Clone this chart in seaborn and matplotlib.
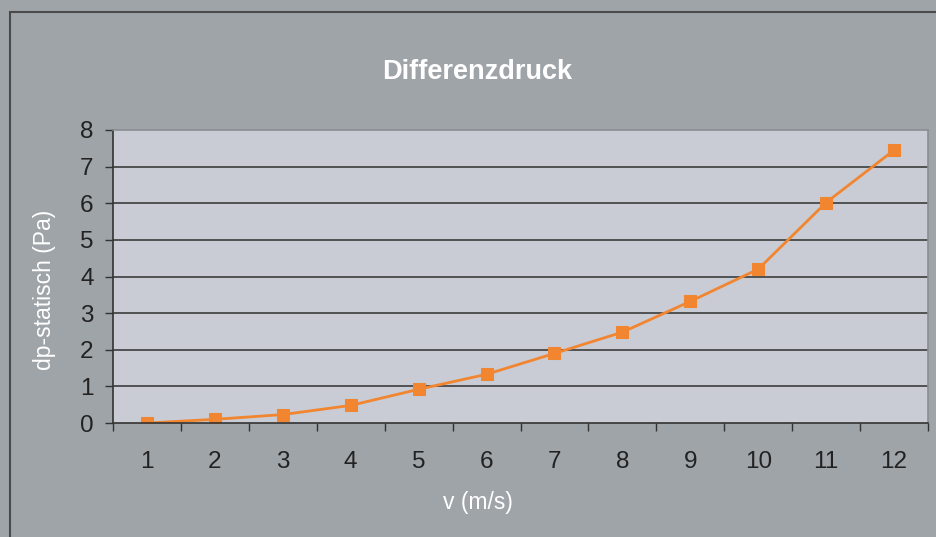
import numpy as np
import pandas as pd
import matplotlib
matplotlib.use("Agg")
import matplotlib.pyplot as plt
from matplotlib.patches import Rectangle
import seaborn as sns

# Daten
geschwindigkeit = [1, 2, 3, 4, 5, 6, 7, 8, 9, 10, 11, 12]
dp_statisch = [0.0, 0.1, 0.23, 0.48, 0.92, 1.33, 1.9, 2.48, 3.32, 4.2, 6.02, 7.45]
y_ticks = [0, 1, 2, 3, 4, 5, 6, 7, 8]

df = pd.DataFrame({"pos": np.arange(len(geschwindigkeit)), "dp": dp_statisch})

sns.set_theme(style="white")
plt.rcParams["font.family"] = ["Liberation Sans", "DejaVu Sans"]

bg = "#9fa4a9"
fig = plt.figure(figsize=(9.36, 5.37), dpi=100, facecolor=bg)
ax = fig.add_axes([113 / 936, 1 - 423 / 537, (928 - 113) / 936, (423 - 130) / 537])
ax.set_facecolor("#c9ccd4")

# Rahmen um das Diagramm
fig.patches.append(Rectangle((10 / 936, -0.1), 1.2, 1 - 12 / 537 + 0.1,
                             transform=fig.transFigure, fill=False,
                             edgecolor="#4a4a4a", linewidth=1.5))

sns.lineplot(data=df, x="pos", y="dp", ax=ax, color="#f28530", linewidth=2,
             marker="s", markersize=8.5, markeredgecolor="#f28530")

ax.set_xlim(-0.5, len(geschwindigkeit) - 0.5)
ax.set_ylim(0, 8)
ax.set_yticks(y_ticks)
ax.set_yticklabels([str(t) for t in y_ticks])
ax.set_xticks(df["pos"])
ax.set_xticklabels([str(v) for v in geschwindigkeit])
ax.set_xticks(np.arange(-0.5, len(geschwindigkeit)), minor=True)

ax.tick_params(axis="x", which="major", length=0, pad=20, labelsize=17.5, labelcolor="#222222")
ax.tick_params(axis="x", which="minor", length=6, width=1, color="#333333", direction="out", bottom=True)
ax.tick_params(axis="y", length=6, width=1, color="#333333", direction="out", left=True,
               pad=8, labelsize=17.5, labelcolor="#222222")

for y in y_ticks[1:-1]:
    ax.axhline(y, color="#3c3c3c", linewidth=1.2, zorder=1)

ax.spines["left"].set_color("#333333")
ax.spines["bottom"].set_color("#333333")
ax.spines["top"].set_color("#8a8e93")
ax.spines["right"].set_color("#8a8e93")
for s in ax.spines.values():
    s.set_linewidth(1.2)

ax.set_xlabel("")
ax.set_ylabel("")
fig.text(478 / 936, 1 - 502 / 537, "v (m/s)", color="white", fontsize=16.5, ha="center", va="center")
fig.text(45 / 936, 1 - 290 / 537, "dp-statisch (Pa)", color="white", fontsize=16.5,
         ha="center", va="center", rotation=90)
fig.text(477 / 936, 1 - 72 / 537, "Differenzdruck", color="white", fontsize=19.5,
         fontweight="bold", ha="center", va="center")

fig.savefig("out.png", dpi=100, facecolor=bg)
